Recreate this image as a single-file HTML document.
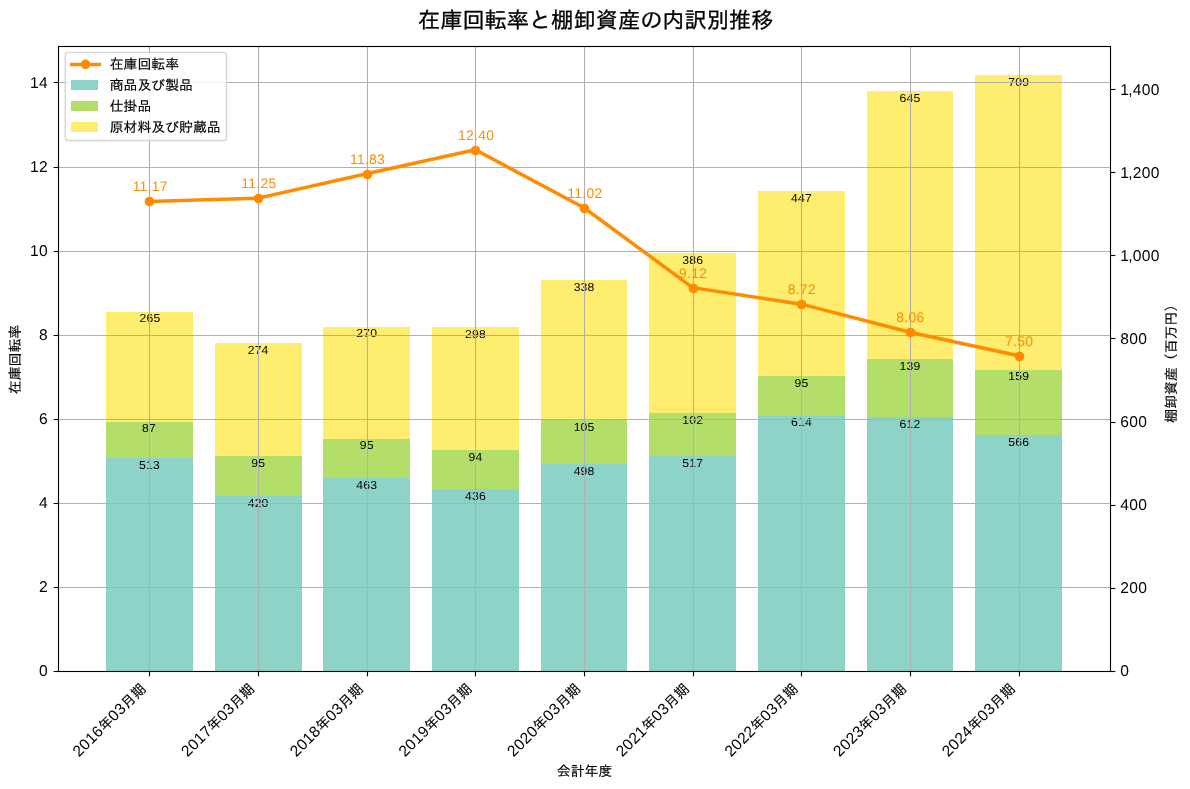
<!DOCTYPE html>
<html lang="ja">
<head>
<meta charset="utf-8">
<title>在庫回転率と棚卸資産の内訳別推移</title>
<style>
html,body{margin:0;padding:0;background:#fff;}
body{width:1190px;height:789px;overflow:hidden;}
svg{display:block;}
svg text{font-family:"Liberation Sans","IPAGothic",sans-serif;text-rendering:geometricPrecision;}
</style>
</head>
<body>
<svg width="1190" height="789" viewBox="0 0 1190 789">
<rect width="1190" height="789" fill="#fff"/>
<g shape-rendering="crispEdges">
<rect x="106" y="458" width="87" height="214" fill="#8dd3c7"/>
<rect x="106" y="422" width="87" height="36" fill="#b3de69"/>
<rect x="106" y="312" width="87" height="110" fill="#ffed6f"/>
<rect x="215" y="496" width="87" height="176" fill="#8dd3c7"/>
<rect x="215" y="456" width="87" height="40" fill="#b3de69"/>
<rect x="215" y="343" width="87" height="113" fill="#ffed6f"/>
<rect x="323" y="478" width="87" height="194" fill="#8dd3c7"/>
<rect x="323" y="439" width="87" height="39" fill="#b3de69"/>
<rect x="323" y="327" width="87" height="112" fill="#ffed6f"/>
<rect x="432" y="489" width="87" height="183" fill="#8dd3c7"/>
<rect x="432" y="450" width="87" height="39" fill="#b3de69"/>
<rect x="432" y="327" width="87" height="123" fill="#ffed6f"/>
<rect x="541" y="464" width="86" height="208" fill="#8dd3c7"/>
<rect x="541" y="420" width="86" height="44" fill="#b3de69"/>
<rect x="541" y="280" width="86" height="140" fill="#ffed6f"/>
<rect x="649" y="456" width="87" height="216" fill="#8dd3c7"/>
<rect x="649" y="413" width="87" height="43" fill="#b3de69"/>
<rect x="649" y="253" width="87" height="160" fill="#ffed6f"/>
<rect x="758" y="416" width="87" height="256" fill="#8dd3c7"/>
<rect x="758" y="376" width="87" height="40" fill="#b3de69"/>
<rect x="758" y="191" width="87" height="185" fill="#ffed6f"/>
<rect x="867" y="417" width="86" height="255" fill="#8dd3c7"/>
<rect x="867" y="359" width="86" height="58" fill="#b3de69"/>
<rect x="867" y="91" width="86" height="268" fill="#ffed6f"/>
<rect x="975" y="435" width="87" height="237" fill="#8dd3c7"/>
<rect x="975" y="370" width="87" height="65" fill="#b3de69"/>
<rect x="975" y="75" width="87" height="295" fill="#ffed6f"/>
</g>
<g font-size="11.6" letter-spacing="0.2" text-anchor="middle" fill="#000">
<text transform="translate(149.46 468.90) scale(1.05 1)">513</text>
<text transform="translate(149.06 432.00) scale(1.05 1)">87</text>
<text transform="translate(150.06 322.00) scale(1.05 1)">265</text>
<text transform="translate(258.12 506.90) scale(1.05 1)">420</text>
<text transform="translate(258.12 466.90) scale(1.05 1)">95</text>
<text transform="translate(258.12 353.90) scale(1.05 1)">274</text>
<text transform="translate(366.78 488.90) scale(1.05 1)">463</text>
<text transform="translate(366.78 449.00) scale(1.05 1)">95</text>
<text transform="translate(366.78 337.00) scale(1.05 1)">270</text>
<text transform="translate(475.44 499.90) scale(1.05 1)">436</text>
<text transform="translate(475.44 460.90) scale(1.05 1)">94</text>
<text transform="translate(475.44 337.90) scale(1.05 1)">298</text>
<text transform="translate(584.10 474.90) scale(1.05 1)">498</text>
<text transform="translate(584.10 430.90) scale(1.05 1)">105</text>
<text transform="translate(584.10 290.90) scale(1.05 1)">338</text>
<text transform="translate(692.76 466.90) scale(1.05 1)">517</text>
<text transform="translate(692.76 423.90) scale(1.05 1)">102</text>
<text transform="translate(692.76 263.90) scale(1.05 1)">386</text>
<text transform="translate(801.42 426.00) scale(1.05 1)">614</text>
<text transform="translate(801.42 386.90) scale(1.05 1)">95</text>
<text transform="translate(801.42 201.90) scale(1.05 1)">447</text>
<text transform="translate(910.08 427.90) scale(1.05 1)">612</text>
<text transform="translate(910.08 369.90) scale(1.05 1)">139</text>
<text transform="translate(910.08 101.90) scale(1.05 1)">645</text>
<text transform="translate(1018.74 445.90) scale(1.05 1)">566</text>
<text transform="translate(1018.74 380.00) scale(1.05 1)">159</text>
<text transform="translate(1018.74 85.90) scale(1.05 1)">709</text>
</g>
<g stroke="#000" stroke-width="1.11" fill="none">
<line x1="1110.5" x2="1115.36" y1="671.5" y2="671.5"/>
<line x1="1110.5" x2="1115.36" y1="588.5" y2="588.5"/>
<line x1="1110.5" x2="1115.36" y1="505.5" y2="505.5"/>
<line x1="1110.5" x2="1115.36" y1="422.5" y2="422.5"/>
<line x1="1110.5" x2="1115.36" y1="338.5" y2="338.5"/>
<line x1="1110.5" x2="1115.36" y1="255.5" y2="255.5"/>
<line x1="1110.5" x2="1115.36" y1="172.5" y2="172.5"/>
<line x1="1110.5" x2="1115.36" y1="89.5" y2="89.5"/>
</g>
<g font-size="15.6" letter-spacing="0.33" text-anchor="start" fill="#000">
<text transform="translate(1120.20 675.90) scale(1 1)">0</text>
<text transform="translate(1120.20 592.90) scale(1 1)">200</text>
<text transform="translate(1120.20 509.90) scale(1 1)">400</text>
<text transform="translate(1120.20 426.90) scale(1 1)">600</text>
<text transform="translate(1120.20 343.90) scale(1 1)">800</text>
<text transform="translate(1120.20 260.90) scale(1 1)">1<tspan dx="-0.9">,</tspan><tspan dx="-0.3">000</tspan></text>
<text transform="translate(1120.20 177.90) scale(1 1)">1<tspan dx="-0.9">,</tspan><tspan dx="-0.3">200</tspan></text>
<text transform="translate(1120.20 94.90) scale(1 1)">1<tspan dx="-0.9">,</tspan><tspan dx="-0.3">400</tspan></text>
</g>
<g stroke="#b0b0b0" stroke-width="1.11" fill="none">
<line x1="149.5" x2="149.5" y1="46.5" y2="671.5"/>
<line x1="258.5" x2="258.5" y1="46.5" y2="671.5"/>
<line x1="367.5" x2="367.5" y1="46.5" y2="671.5"/>
<line x1="475.5" x2="475.5" y1="46.5" y2="671.5"/>
<line x1="584.5" x2="584.5" y1="46.5" y2="671.5"/>
<line x1="693.5" x2="693.5" y1="46.5" y2="671.5"/>
<line x1="801.5" x2="801.5" y1="46.5" y2="671.5"/>
<line x1="910.5" x2="910.5" y1="46.5" y2="671.5"/>
<line x1="1019.5" x2="1019.5" y1="46.5" y2="671.5"/>
<line x1="58.5" x2="1110.5" y1="671.5" y2="671.5"/>
<line x1="58.5" x2="1110.5" y1="587.5" y2="587.5"/>
<line x1="58.5" x2="1110.5" y1="503.5" y2="503.5"/>
<line x1="58.5" x2="1110.5" y1="419.5" y2="419.5"/>
<line x1="58.5" x2="1110.5" y1="335.5" y2="335.5"/>
<line x1="58.5" x2="1110.5" y1="251.5" y2="251.5"/>
<line x1="58.5" x2="1110.5" y1="167.5" y2="167.5"/>
<line x1="58.5" x2="1110.5" y1="82.5" y2="82.5"/>
</g>
<g stroke="#000" stroke-width="1.11" fill="none">
<line x1="53.64" x2="58.5" y1="671.5" y2="671.5"/>
<line x1="53.64" x2="58.5" y1="587.5" y2="587.5"/>
<line x1="53.64" x2="58.5" y1="503.5" y2="503.5"/>
<line x1="53.64" x2="58.5" y1="419.5" y2="419.5"/>
<line x1="53.64" x2="58.5" y1="335.5" y2="335.5"/>
<line x1="53.64" x2="58.5" y1="251.5" y2="251.5"/>
<line x1="53.64" x2="58.5" y1="167.5" y2="167.5"/>
<line x1="53.64" x2="58.5" y1="82.5" y2="82.5"/>
<line x1="149.5" x2="149.5" y1="671.5" y2="676.36"/>
<line x1="258.5" x2="258.5" y1="671.5" y2="676.36"/>
<line x1="367.5" x2="367.5" y1="671.5" y2="676.36"/>
<line x1="475.5" x2="475.5" y1="671.5" y2="676.36"/>
<line x1="584.5" x2="584.5" y1="671.5" y2="676.36"/>
<line x1="693.5" x2="693.5" y1="671.5" y2="676.36"/>
<line x1="801.5" x2="801.5" y1="671.5" y2="676.36"/>
<line x1="910.5" x2="910.5" y1="671.5" y2="676.36"/>
<line x1="1019.5" x2="1019.5" y1="671.5" y2="676.36"/>
</g>
<g font-size="15.6" letter-spacing="0.33" text-anchor="end" fill="#000">
<text transform="translate(48.13 675.90) scale(1 1)">0</text>
<text transform="translate(48.13 591.90) scale(1 1)">2</text>
<text transform="translate(48.13 507.90) scale(1 1)">4</text>
<text transform="translate(48.13 423.90) scale(1 1)">6</text>
<text transform="translate(48.13 339.90) scale(1 1)">8</text>
<text transform="translate(48.13 255.90) scale(1 1)">10</text>
<text transform="translate(48.13 171.90) scale(1 1)">12</text>
<text transform="translate(48.13 87.90) scale(1 1)">14</text>
</g>
<g font-size="14.0" text-anchor="end" fill="#000" stroke="#000" stroke-width="0.15">
<text transform="translate(146.86 689.60) rotate(-45)"><tspan font-size="15.6" letter-spacing="0.33" stroke="none">2016</tspan>年<tspan font-size="15.6" letter-spacing="0.33" stroke="none">03</tspan>月期</text>
<text transform="translate(255.52 689.60) rotate(-45)"><tspan font-size="15.6" letter-spacing="0.33" stroke="none">2017</tspan>年<tspan font-size="15.6" letter-spacing="0.33" stroke="none">03</tspan>月期</text>
<text transform="translate(364.18 689.60) rotate(-45)"><tspan font-size="15.6" letter-spacing="0.33" stroke="none">2018</tspan>年<tspan font-size="15.6" letter-spacing="0.33" stroke="none">03</tspan>月期</text>
<text transform="translate(472.84 689.60) rotate(-45)"><tspan font-size="15.6" letter-spacing="0.33" stroke="none">2019</tspan>年<tspan font-size="15.6" letter-spacing="0.33" stroke="none">03</tspan>月期</text>
<text transform="translate(581.50 689.60) rotate(-45)"><tspan font-size="15.6" letter-spacing="0.33" stroke="none">2020</tspan>年<tspan font-size="15.6" letter-spacing="0.33" stroke="none">03</tspan>月期</text>
<text transform="translate(690.16 689.60) rotate(-45)"><tspan font-size="15.6" letter-spacing="0.33" stroke="none">2021</tspan>年<tspan font-size="15.6" letter-spacing="0.33" stroke="none">03</tspan>月期</text>
<text transform="translate(798.82 689.60) rotate(-45)"><tspan font-size="15.6" letter-spacing="0.33" stroke="none">2022</tspan>年<tspan font-size="15.6" letter-spacing="0.33" stroke="none">03</tspan>月期</text>
<text transform="translate(907.48 689.60) rotate(-45)"><tspan font-size="15.6" letter-spacing="0.33" stroke="none">2023</tspan>年<tspan font-size="15.6" letter-spacing="0.33" stroke="none">03</tspan>月期</text>
<text transform="translate(1016.14 689.60) rotate(-45)"><tspan font-size="15.6" letter-spacing="0.33" stroke="none">2024</tspan>年<tspan font-size="15.6" letter-spacing="0.33" stroke="none">03</tspan>月期</text>
</g>
<polyline points="149.36,201.45 258.02,198.09 366.68,173.70 475.34,149.73 584.00,207.76 692.66,287.65 801.32,304.18 909.98,332.23 1018.64,355.77" fill="none" stroke="#ff8c00" stroke-width="3.47" stroke-linejoin="round" stroke-linecap="square"/>
<circle cx="149.5" cy="201.5" r="4.86" fill="#ff8c00"/>
<circle cx="258.5" cy="198.5" r="4.86" fill="#ff8c00"/>
<circle cx="367.5" cy="174.5" r="4.86" fill="#ff8c00"/>
<circle cx="475.5" cy="150.5" r="4.86" fill="#ff8c00"/>
<circle cx="584.5" cy="208.5" r="4.86" fill="#ff8c00"/>
<circle cx="693.5" cy="288.5" r="4.86" fill="#ff8c00"/>
<circle cx="801.5" cy="304.5" r="4.86" fill="#ff8c00"/>
<circle cx="910.5" cy="332.5" r="4.86" fill="#ff8c00"/>
<circle cx="1019.5" cy="356.5" r="4.86" fill="#ff8c00"/>
<g font-size="13.9" letter-spacing="0.27" text-anchor="middle" fill="#ff8c00">
<text transform="translate(150.19 191.10) scale(1 1)">11.17</text>
<text transform="translate(258.85 188.10) scale(1 1)">11.25</text>
<text transform="translate(367.51 164.10) scale(1 1)">11.83</text>
<text transform="translate(476.18 140.10) scale(1 1)">12.40</text>
<text transform="translate(584.84 198.10) scale(1 1)">11.02</text>
<text transform="translate(693.09 278.10) scale(1 1)">9.12</text>
<text transform="translate(801.75 294.10) scale(1 1)">8.72</text>
<text transform="translate(910.41 322.10) scale(1 1)">8.06</text>
<text transform="translate(1019.07 346.10) scale(1 1)">7.50</text>
</g>
<rect x="58.5" y="46.5" width="1052.0" height="625.0" fill="none" stroke="#000" stroke-width="1.11"/>
<rect x="65.3" y="52.4" width="161.20" height="88.10" rx="2.8" ry="2.8" fill="#fff" fill-opacity="0.8" stroke="#ccc" stroke-opacity="0.8" stroke-width="1.39"/>
<line x1="71.6" x2="99.4" y1="64.4" y2="64.4" stroke="#ff8c00" stroke-width="3.47" stroke-linecap="square"/>
<circle cx="85.5" cy="64.4" r="4.86" fill="#ff8c00"/>
<rect x="71" y="80" width="27" height="10" fill="#8dd3c7" shape-rendering="crispEdges"/>
<rect x="71" y="101" width="27" height="10" fill="#b3de69" shape-rendering="crispEdges"/>
<rect x="71" y="122" width="27" height="10" fill="#ffed6f" shape-rendering="crispEdges"/>
<g font-size="13.89" fill="#000" stroke="#000" stroke-width="0.15">
<text x="109.7" y="69.20">在庫回転率</text>
<text x="109.7" y="90.10">商品及び製品</text>
<text x="109.7" y="111.00">仕掛品</text>
<text x="109.7" y="131.90">原材料及び貯蔵品</text>
</g>
<text x="595.7" y="27.9" font-size="22.22" text-anchor="middle" fill="#000" stroke="#000" stroke-width="0.3">在庫回転率と棚卸資産の内訳別推移</text>
<text x="584.50" y="776.3" font-size="13.89" text-anchor="middle" fill="#000" stroke="#000" stroke-width="0.15">会計年度</text>
<text transform="translate(20.4 359.50) rotate(-90)" font-size="13.89" text-anchor="middle" fill="#000" stroke="#000" stroke-width="0.15">在庫回転率</text>
<text transform="translate(1176.3 360.20) rotate(-90)" font-size="13.89" text-anchor="middle" fill="#000" stroke="#000" stroke-width="0.15">棚卸資産（百万円）</text>
</svg>
</body>
</html>
